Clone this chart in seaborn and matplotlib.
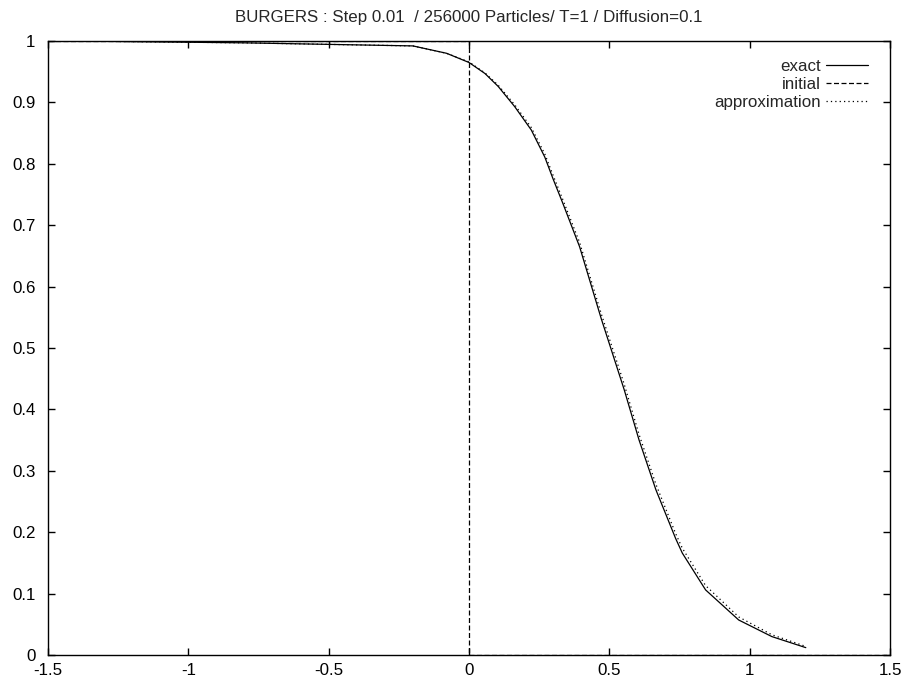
import numpy as np
import pandas as pd
import matplotlib
matplotlib.use("Agg")
import matplotlib.pyplot as plt
import seaborn as sns
from matplotlib.ticker import FormatStrFormatter, MultipleLocator

# values
x_exact = [-1.4, -0.8, -0.32, -0.2, -0.08, 0.0, 0.057, 0.104, 0.163, 0.222, 0.27, 0.299,
           0.334, 0.394, 0.471, 0.553, 0.606, 0.666, 0.736, 0.76, 0.843, 0.961, 1.079, 1.2]
y_exact = [1.0, 0.997, 0.993, 0.992, 0.980, 0.965, 0.947, 0.926, 0.893, 0.855, 0.811, 0.776,
           0.736, 0.665, 0.548, 0.432, 0.350, 0.269, 0.190, 0.166, 0.106, 0.057, 0.030, 0.012]

x_initial = [-1.5, 0.0, 0.0, 1.5]
y_initial = [1.0, 1.0, 0.0, 0.0]

x_approx = x_exact
y_approx = [1.0, 0.997, 0.993, 0.992, 0.980, 0.966, 0.948, 0.928, 0.896, 0.859, 0.816, 0.782,
            0.742, 0.672, 0.556, 0.441, 0.359, 0.278, 0.198, 0.174, 0.113, 0.062, 0.033, 0.014]

title = "BURGERS : Step 0.01  / 256000 Particles/ T=1 / Diffusion=0.1"

sns.set_style("ticks")
plt.rcParams["font.family"] = ["Liberation Sans", "DejaVu Sans"]
plt.rcParams["font.size"] = 12.2

fig = plt.figure(figsize=(9.06, 6.84), dpi=100)
ax = fig.add_axes([48 / 906, 1 - 655 / 684, 842 / 906, 614 / 684])

sns.lineplot(x=x_exact, y=y_exact, ax=ax, color="black", linewidth=0.9,
             label="exact", sort=False)
sns.lineplot(x=x_initial, y=y_initial, ax=ax, color="black", linewidth=0.9,
             label="initial", sort=False, estimator=None)
ax.lines[-1].set_dashes((4, 2))
sns.lineplot(x=x_approx, y=y_approx, ax=ax, color="black", linewidth=0.9,
             label="approximation", sort=False)
ax.lines[-1].set_dashes((1, 2.5))

ax.set_xlim(-1.5, 1.5)
ax.set_ylim(0, 1)
ax.xaxis.set_major_locator(MultipleLocator(0.5))
ax.yaxis.set_major_locator(MultipleLocator(0.1))
ax.xaxis.set_major_formatter(FormatStrFormatter("%g"))
ax.yaxis.set_major_formatter(FormatStrFormatter("%g"))
ax.tick_params(axis="both", direction="in", length=5, width=1, color="black",
               top=True, right=True, labelsize=12.2, colors="black")
ax.tick_params(axis="y", pad=9)
ax.tick_params(axis="x", pad=6)
for s in ax.spines.values():
    s.set_linewidth(1)
    s.set_color("black")
    s.set_visible(True)

ax.set_title(title, fontsize=12.2, pad=14)

ax.legend(loc="upper right", bbox_to_anchor=(0.974, 0.97), frameon=False,
          markerfirst=False, handlelength=2.5, handletextpad=0.3,
          labelspacing=0.17, borderaxespad=0, borderpad=0, fontsize=12.2)

fig.savefig("out.png", dpi=100)
